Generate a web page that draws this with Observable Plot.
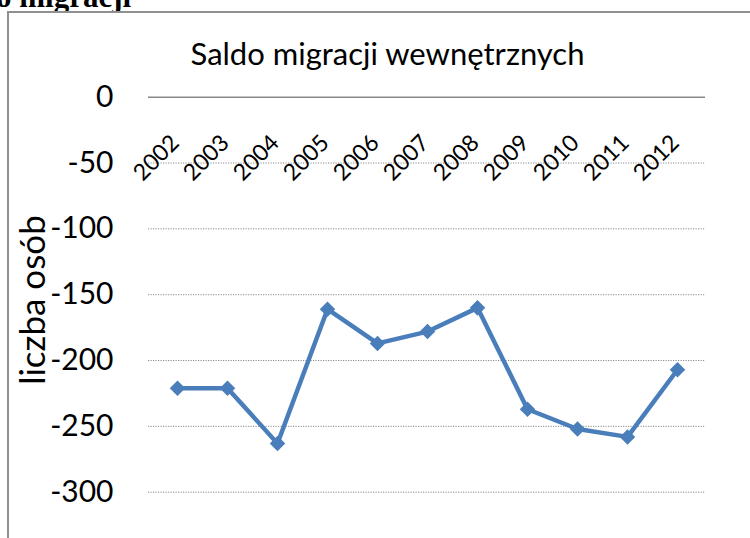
<!DOCTYPE html>
<html>
<head>
<meta charset="utf-8">
<script src="https://cdn.jsdelivr.net/npm/d3@7"></script>
<script src="https://cdn.jsdelivr.net/npm/@observablehq/plot@0.6"></script>
<style>
  html, body { margin: 0; padding: 0; background: #fff; }
  #page { position: relative; width: 750px; height: 538px; overflow: hidden; background: #fff; }
  #frag { position: absolute; left: -4px; top: -18px; font-family: "Liberation Serif", serif; font-weight: bold; font-size: 31px; line-height: 30px; color: #000; white-space: nowrap; }
  #frame { position: absolute; left: 7px; top: 11px; width: 800px; height: 600px; border-left: 2px solid #909090; border-top: 2px solid #909090; background: #fff; }
  #title { position: absolute; left: 0; width: 775px; top: 34px; text-align: center; font-family: Lato, sans-serif; font-size: 31px; color: #000; white-space: nowrap; }
  #ylabel { position: absolute; left: 31px; top: 300px; transform: translate(-50%, -50%) rotate(-90deg); font-family: Lato, sans-serif; font-size: 35px; color: #000; white-space: nowrap; }
  #chart { position: absolute; left: 0; top: 0; }
</style>
</head>
<body>
<div id="page">
  <div id="frag">o migracji</div>
  <div id="frame"></div>
  <div id="chart"></div>
  <div id="title">Saldo migracji wewnętrznych</div>
  <div id="ylabel">liczba osób</div>
</div>
<script>
const years = ["2002","2003","2004","2005","2006","2007","2008","2009","2010","2011","2012"];
const values = [-221, -221, -263, -161, -187, -178, -160, -237, -252, -258, -207];
const yTicks = [0, -50, -100, -150, -200, -250, -300];
const gridTicks = [-50, -100, -150, -200, -250, -300];

const data = years.map((year, i) => ({year, value: values[i]}));

const chart = Plot.plot({
  width: 750,
  height: 538,
  marginLeft: 148,
  marginRight: 45,
  marginTop: 96.7,
  marginBottom: 46.3,
  style: {fontFamily: "Lato, sans-serif", background: "transparent", color: "#000"},
  x: {type: "point", domain: years, padding: 0.5, axis: null},
  y: {domain: [-300, 0], axis: null},
  marks: [
    Plot.ruleY(gridTicks, {stroke: "#8a8a8a", strokeWidth: 1, strokeDasharray: "1.2,1.3"}),
    Plot.ruleY([0], {stroke: "#888888", strokeWidth: 1.6}),
    Plot.axisY({ticks: yTicks, tickSize: 0, tickPadding: 35, fontSize: 30, tickFormat: d => String(d), label: null}),
    Plot.text(years, {x: d => d, y: () => 0, text: d => d, rotate: -45, textAnchor: "end", lineAnchor: "bottom", dx: 3, dy: 47, fontSize: 23, fill: "#000"}),
    Plot.line(data, {x: "year", y: "value", stroke: "#4a7ebb", strokeWidth: 4.5, strokeLinejoin: "round"}),
    Plot.dot(data, {x: "year", y: "value", symbol: "diamond2", r: 7, fill: "#4a7ebb", stroke: "none"})
  ]
});
document.getElementById("chart").appendChild(chart);
</script>
</body>
</html>
